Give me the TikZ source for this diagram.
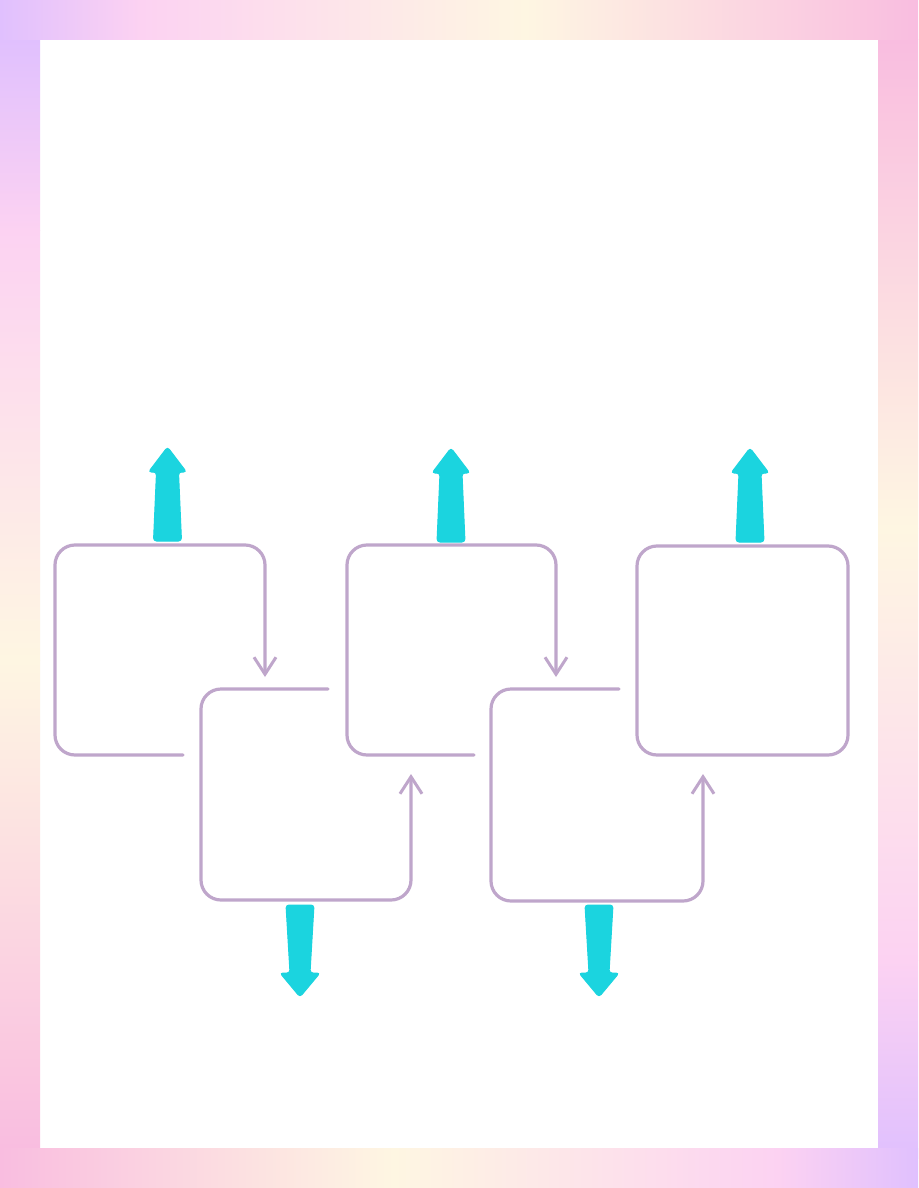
\documentclass[tikz,border=0pt]{standalone}
\usetikzlibrary{arrows.meta}
\definecolor{fP}{RGB}{224,192,254}
\definecolor{fK}{RGB}{252,210,242}
\definecolor{fC}{RGB}{254,246,226}
\definecolor{fR}{RGB}{249,189,224}
\definecolor{lilac}{RGB}{191,166,203}
\definecolor{aqua}{RGB}{27,212,223}
\tikzset{
  boxline/.style={draw=lilac, line width=3.2pt, rounded corners=20pt, line cap=round, line join=round},
  flowtip/.style={-{Straight Barb[length=17pt,width=22pt,line width=3pt]}},
  bigarrow/.style={fill=aqua, draw=aqua, line width=1pt, rounded corners=3pt},
}
\newcommand{\hseg}[6]{\shade[left color=#5, right color=#6] (#1,#3) rectangle (#2,#4);}
\newcommand{\vseg}[6]{\shade[top color=#5, bottom color=#6] (#1,#3) rectangle (#2,#4);}
\newcommand{\uparr}[4]{%
  \path[bigarrow] (#1-14,#3) -- (#1-11,#2+25) -- (#1-19,#2+25) -- (#1,#2)
     -- (#1+19,#2+25) -- (#1+11,#2+25) -- (#1+14,#3) -- cycle;
  \coordinate (#4) at (#1,#2);}
\newcommand{\downarr}[4]{%
  \path[bigarrow] (#1-14,#2) -- (#1-10,#3-24) -- (#1-20,#3-24) -- (#1,#3)
     -- (#1+20,#3-24) -- (#1+10,#3-24) -- (#1+14,#2) -- cycle;
  \coordinate (#4) at (#1,#3);}
\begin{document}
\begin{tikzpicture}[x=1pt,y=-1pt]
\useasboundingbox (0,0) rectangle (918,1188);
% frame
\fill[white] (0,0) rectangle (918,1188);
\vseg{0}{40}{39.5}{230.5}{fP}{fK}
\vseg{0}{40}{230}{660.5}{fK}{fC}
\vseg{0}{40}{660}{1148}{fC}{fR}
\vseg{878}{918}{39.5}{528.5}{fR}{fC}
\vseg{878}{918}{528}{960.5}{fC}{fK}
\vseg{878}{918}{960}{1158}{fK}{fP}
\hseg{0}{140.5}{0}{40}{fP}{fK}
\hseg{140}{525.5}{0}{40}{fK}{fC}
\hseg{525}{918}{0}{40}{fC}{fR}
\hseg{0}{393.5}{1148}{1188}{fR}{fC}
\hseg{393}{778.5}{1148}{1188}{fC}{fK}
\hseg{778}{918}{1148}{1188}{fK}{fP}
% boxes
\coordinate (b1s) at (183,755);
\coordinate (b1e) at (265,677);
\draw[boxline, flowtip] (b1s) -- (55,755) -- (55,545) -- (265,545) -- (b1e);
\coordinate (b2s) at (328,689);
\coordinate (b2e) at (411,774);
\draw[boxline, flowtip] (b2s) -- (201,689) -- (201,900) -- (411,900) -- (b2e);
\coordinate (b3s) at (474,755);
\coordinate (b3e) at (556,677);
\draw[boxline, flowtip] (b3s) -- (347,755) -- (347,545) -- (556,545) -- (b3e);
\coordinate (b4s) at (619,689);
\coordinate (b4e) at (703,774);
\draw[boxline, flowtip] (b4s) -- (491,689) -- (491,901) -- (703,901) -- (b4e);
\draw[boxline] (637,546) rectangle (848,755);
% cyan arrows
\uparr{167.5}{447}{541}{a1}
\uparr{451}{448}{542}{a3}
\uparr{750}{448}{542}{a5}
\downarr{300}{905}{997}{a2}
\downarr{599}{905}{997}{a4}
\end{tikzpicture}
\end{document}
